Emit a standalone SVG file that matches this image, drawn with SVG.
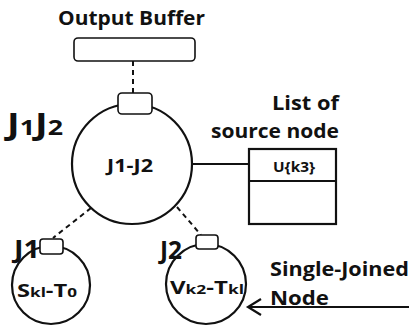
<svg xmlns="http://www.w3.org/2000/svg" width="409" height="326" viewBox="0 0 409 326">
<style>
text{font-family:"Open Sans",Lato,"DejaVu Sans",sans-serif;font-weight:bold;fill:#111}
.s{fill:none;stroke:#111;stroke-width:2.2}
.w{fill:#fff;stroke:#111;stroke-width:1.6}
.d{fill:none;stroke:#111;stroke-width:2;stroke-dasharray:5,4}
</style>
<rect width="409" height="326" fill="#fff"/>
<g id="connectors">
<line class="d" x1="133" y1="61" x2="133" y2="93"/>
<line class="d" x1="91" y1="208" x2="53" y2="238"/>
<line class="d" x1="177" y1="207" x2="201" y2="235"/>
<line class="s" x1="192" y1="164" x2="249" y2="164"/>
<line class="s" x1="409" y1="307" x2="248" y2="307" stroke-width="1.5"/>
<polyline class="s" points="261,299 248,307 261,315" stroke-width="1.5"/>
</g>
<g id="output-buffer">
<text x="58" y="25" font-size="20" textLength="147" lengthAdjust="spacingAndGlyphs">Output Buffer</text>
<rect class="w" x="74" y="38" width="121" height="23" rx="4"/>
</g>
<g id="j1j2">
<text x="7" y="135" font-size="30" textLength="56" lengthAdjust="spacingAndGlyphs">J<tspan font-size="21">1</tspan>J<tspan font-size="21">2</tspan></text>
<circle class="s" cx="132" cy="164" r="60"/>
<rect class="w" x="118" y="93" width="34" height="21" rx="4"/>
<text x="107" y="172" font-size="17" textLength="46" lengthAdjust="spacingAndGlyphs">J1-J2</text>
</g>
<g id="source-list">
<text x="272" y="110" font-size="20" textLength="67" lengthAdjust="spacingAndGlyphs">List of</text>
<text x="211" y="138" font-size="20" textLength="128" lengthAdjust="spacingAndGlyphs">source node</text>
<rect class="s" x="249" y="149" width="87" height="75" stroke-width="1.8"/>
<line class="s" x1="249" y1="181" x2="336" y2="181" stroke-width="1.8"/>
<text x="273" y="172" font-size="14" textLength="42" lengthAdjust="spacingAndGlyphs">U{k3}</text>
</g>
<g id="j1">
<circle class="s" cx="51" cy="285" r="39"/>
<rect class="w" x="40" y="239" width="23" height="15" rx="3"/>
<text x="14" y="258" font-size="25" textLength="26" lengthAdjust="spacingAndGlyphs">J1</text>
<text x="17" y="297" font-size="18" textLength="60" lengthAdjust="spacingAndGlyphs">S<tspan font-size="13">kl</tspan>-T<tspan font-size="13">0</tspan></text>
</g>
<g id="j2">
<circle class="s" cx="206" cy="284" r="40"/>
<rect class="w" x="196" y="235" width="22" height="14" rx="3"/>
<text x="160" y="259" font-size="25" textLength="22" lengthAdjust="spacingAndGlyphs">J2</text>
<text x="170" y="294" font-size="18" textLength="74" lengthAdjust="spacingAndGlyphs">V<tspan font-size="13">k2</tspan>-T<tspan font-size="13">kl</tspan></text>
</g>
<g id="single-joined">
<text x="270" y="276" font-size="20" textLength="139" lengthAdjust="spacingAndGlyphs">Single-Joined</text>
<text x="270" y="305" font-size="20" textLength="59" lengthAdjust="spacingAndGlyphs">Node</text>
</g>
</svg>
